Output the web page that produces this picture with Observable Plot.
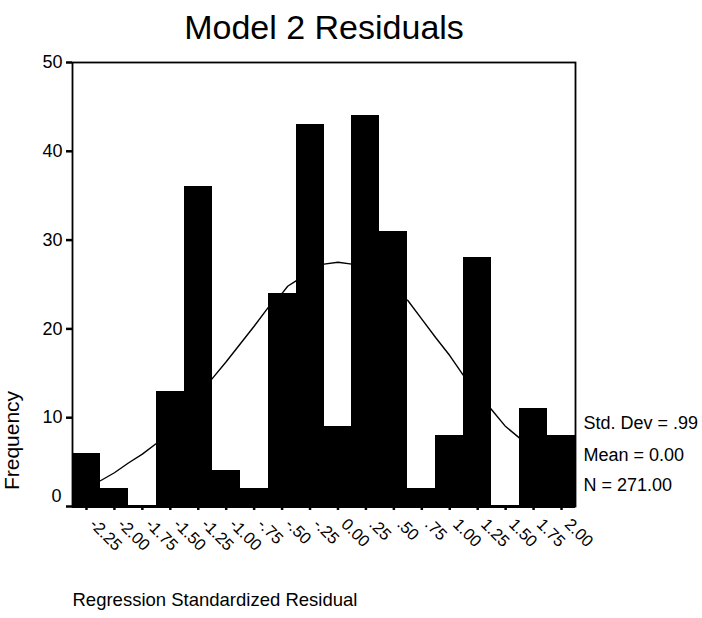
<!DOCTYPE html>
<html>
<head>
<meta charset="utf-8">
<script src="https://cdn.jsdelivr.net/npm/d3@7"></script>
<script src="https://cdn.jsdelivr.net/npm/@observablehq/plot@0.6"></script>
<style>
  body { margin: 0; background: #fff; }
  #chart svg { display: block; }
  #chart svg text { font-family: "Liberation Sans", Arial, Helvetica, sans-serif; fill: #000; }
</style>
</head>
<body>
<div id="chart"></div>
<script>
// Histogram of regression standardized residuals (bin midpoints, width .25)
const binCenters = [-2.25, -2.00, -1.75, -1.50, -1.25, -1.00, -0.75, -0.50, -0.25,
                     0.00, 0.25, 0.50, 0.75, 1.00, 1.25, 1.50, 1.75, 2.00];
const frequencies = [6, 2, 0, 13, 36, 4, 2, 24, 43, 9, 44, 31, 2, 8, 28, 0, 11, 8];
const tickLabels = ["-2.25", "-2.00", "-1.75", "-1.50", "-1.25", "-1.00", "-.75", "-.50", "-.25",
                    "0.00", ".25", ".50", ".75", "1.00", "1.25", "1.50", "1.75", "2.00"];
const binWidth = 0.25;
const yTicks = [0, 10, 20, 30, 40, 50];

// Fitted normal curve, sampled along the residual axis
const curveX = [-2.125, -2.0, -1.875, -1.75, -1.625, -1.125, -1.0, -0.875, -0.75, -0.625,
                -0.55, -0.5, -0.45, -0.375, -0.125, 0.0, 0.125, 0.625, 0.75, 0.875,
                1.0, 1.125, 1.375, 1.5, 1.625];
const curveY = [2.9, 3.8, 4.9, 5.9, 7.1, 14.4, 16.3, 18.3, 20.3, 22.4,
                23.5, 24.0, 24.8, 25.4, 27.3, 27.5, 27.3, 23.2, 21.1, 19.0,
                17.0, 14.7, 10.9, 9.0, 7.7];

const statLines = ["Std. Dev = .99", "Mean = 0.00", "N = 271.00"];
const titleText = "Model 2 Residuals";
const xTitle = "Regression Standardized Residual";
const yTitle = "Frequency";

const bins = binCenters.map((c, i) => ({
  x1: c - binWidth / 2, x2: c + binWidth / 2, count: frequencies[i], label: tickLabels[i], center: c
}));
const curve = curveX.map((x, i) => ({x, y: curveY[i]}));

const chart = Plot.plot({
  width: 702,
  height: 618,
  marginLeft: 72,
  marginRight: 127,
  marginTop: 62,
  marginBottom: 112,
  style: {fontFamily: "Liberation Sans, Arial, sans-serif", background: "#fff", color: "#000"},
  x: {domain: [binCenters[0] - binWidth / 2, binCenters[binCenters.length - 1] + binWidth / 2], axis: null},
  y: {domain: [0, 50], axis: null},
  marks: [
    Plot.rectY(bins, {x1: "x1", x2: "x2", y: "count", fill: "#000", shapeRendering: "crispEdges"}),
    Plot.line(curve, {x: "x", y: "y", stroke: "#000", strokeWidth: 1.4}),
    Plot.frame({stroke: "#000", strokeWidth: 1.8}),
    Plot.ruleY([0], {stroke: "#000", strokeWidth: 3}),
    // y axis ticks and labels
    Plot.axisY(yTicks, {tickSize: 6, tickPadding: 4, strokeWidth: 2.5, fontSize: 18,
                        tickFormat: d => (d === 0 ? "" : String(d))}),
    Plot.text([yTicks[0]], {y: d => d, text: d => String(d), frameAnchor: "left",
                            textAnchor: "end", dx: -11, dy: -10, fontSize: 18}),
    // x axis ticks and rotated labels
    Plot.axisX(binCenters, {tickSize: 4, strokeWidth: 2.5, tickFormat: () => ""}),
    Plot.text(bins, {x: "center", text: "label", frameAnchor: "bottom", rotate: 45,
                     textAnchor: "start", lineAnchor: "middle", dx: 6, dy: 15, fontSize: 16.5}),
    // statistics box
    Plot.text([statLines[0]], {frameAnchor: "bottom-right", textAnchor: "start", lineAnchor: "middle",
                               dx: 8, dy: -83, fontSize: 18}),
    Plot.text([statLines[1]], {frameAnchor: "bottom-right", textAnchor: "start", lineAnchor: "middle",
                               dx: 8, dy: -51, fontSize: 18}),
    Plot.text([statLines[2]], {frameAnchor: "bottom-right", textAnchor: "start", lineAnchor: "middle",
                               dx: 8, dy: -21, fontSize: 18}),
    // titles
    Plot.text([titleText], {frameAnchor: "top", lineAnchor: "middle", dy: -34, fontSize: 34}),
    Plot.text([yTitle], {frameAnchor: "bottom-left", rotate: -90, textAnchor: "middle", lineAnchor: "middle",
                         dx: -60, dy: -66, fontSize: 21}),
    Plot.text([xTitle], {frameAnchor: "bottom-left", textAnchor: "start", lineAnchor: "middle",
                         dy: 94, fontSize: 18.5})
  ]
});
document.getElementById("chart").append(chart);
</script>
</body>
</html>
